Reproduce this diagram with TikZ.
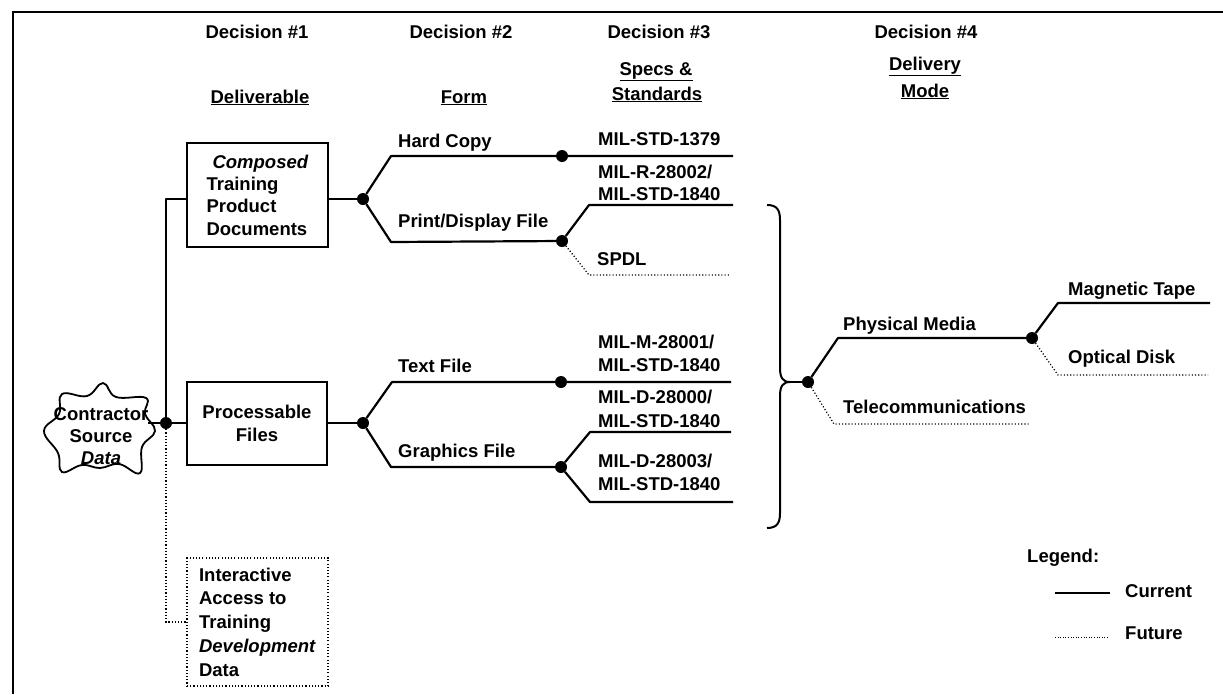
\documentclass[tikz,border=0pt]{standalone}
\usepackage{fontspec}
\setmainfont{Liberation Sans}
\begin{document}
\begin{tikzpicture}[x=1pt,y=-1pt,
  lbl/.style={font=\fontsize{18.5}{22.3}\selectfont\bfseries, inner sep=0pt},
  cur/.style={line width=2.2pt, line join=round},
  fut/.style={line width=1.3pt, dash pattern=on 1.1pt off 2.1pt},
  jdot/.style={circle, fill=black, inner sep=0pt, minimum size=12pt},
  boxs/.style={draw, line width=2pt, inner sep=0pt, font=\fontsize{18.5}{22.3}\selectfont\bfseries},
  boxf/.style={draw, line width=1.3pt, dash pattern=on 1.1pt off 2.1pt, inner sep=0pt, font=\fontsize{18.5}{23.8}\selectfont\bfseries}
]
\useasboundingbox (0,0) rectangle (1223,694);
% frame
\draw[line width=2.4pt] (13,694) -- (13,12) -- (1223,12);

% headers
\node[lbl, anchor=base] (d1) at (257,38) {Decision \#1};
\node[lbl, anchor=base] (d2) at (461,38) {Decision \#2};
\node[lbl, anchor=base] (d3) at (659,38) {Decision \#3};
\node[lbl, anchor=base] (d4) at (926,38) {Decision \#4};
\node[lbl, anchor=base] (h1) at (260,103) {\underline{Deliverable}};
\node[lbl, anchor=base] (h2) at (464,103) {\underline{Form}};
\node[lbl, anchor=base] (h3a) at (656,75) {\underline{Specs \&}};
\node[lbl, anchor=base] (h3b) at (657,100) {\underline{Standards}};
\node[lbl, anchor=base] (h4a) at (925,70) {\underline{Delivery}};
\node[lbl, anchor=base] (h4b) at (925,97) {\underline{Mode}};

% boxes
\node[boxs, minimum width=141pt, minimum height=104pt, align=left] (comp) at (257.5,195)
  {\hspace*{6pt}\textit{Composed}\\Training\\Product\\Documents};
\node[boxs, minimum width=140pt, minimum height=83pt, align=center] (proc) at (257,423.5)
  {Processable\\Files};
\node[boxf, minimum width=141pt, minimum height=128pt, align=left] (inter) at (257.5,622)
  {Interactive\\Access to\\Training\\\textit{Development}\\Data};

% cloud
\draw[line width=1.8pt] plot[smooth cycle, tension=0.7] coordinates
  {(103,383) (116,397) (146,398) (145,414) (155,431) (142,447) (140,473) (119,464)
   (100,468) (82,465) (62,472) (58,453) (44,431) (59,414) (62,394) (87,396)};
\node[lbl, align=center, font=\fontsize{18.5}{22}\selectfont\bfseries] (src) at (101,436)
  {Contractor\\Source\\\textit{Data}};
\coordinate (srcR) at (148,423);

% junction dots
\node[jdot] (jA) at (166,423) {};
\node[jdot] (jB) at (363,199) {};
\node[jdot] (jC) at (562,156) {};
\node[jdot] (jD) at (562,241) {};
\node[jdot] (jE) at (363,423) {};
\node[jdot] (jF) at (561,382) {};
\node[jdot] (jG) at (561,467) {};
\node[jdot] (jH) at (808,382) {};
\node[jdot] (jI) at (1032,338) {};

% free ends
\coordinate (hcE) at (733,156);
\coordinate (pdE) at (733,205);
\coordinate (spE) at (730,275);
\coordinate (tfE) at (731,382);
\coordinate (g1E) at (731,432);
\coordinate (g2E) at (733,502);
\coordinate (tcE) at (1030,424);
\coordinate (mtE) at (1210,303);
\coordinate (odE) at (1208,375);
\coordinate (brTip) at (790,382);

% deliverable connectors
\draw[cur] (srcR) -- (jA) -- (jA -| proc.west);
\draw[cur] (jA) |- (comp.west |- jB);
\draw[fut] (jA) |- (inter.west);
\draw[cur] (comp.east |- jB) -- (jB);
\draw[cur] (proc.east |- jE) -- (jE);

% form branches
\draw[cur] (jB) -- (391,156) -- (jC) -- (hcE);
\draw[cur] (jB) -- (391,242) -- (jD);
\draw[cur] (jD) -- (589,205) -- (pdE);
\draw[fut] (jD) -- (589,275) -- (spE);
\draw[cur] (jE) -- (392,382) -- (jF) -- (tfE);
\draw[cur] (jE) -- (391,467) -- (jG);
\draw[cur] (jG) -- (590,432) -- (g1E);
\draw[cur] (jG) -- (590,502) -- (g2E);

% brace
\draw[line width=2pt] (767,205) .. controls (777,205) and (780,210) .. (780,220)
  -- (780,368) .. controls (780,378) and (783,382) .. (brTip);
\draw[line width=2pt] (767,528) .. controls (777,528) and (780,523) .. (780,513)
  -- (780,396) .. controls (780,386) and (783,382) .. (brTip);
\draw[cur] (brTip) -- (jH);

% delivery branches
\draw[cur] (jH) -- (838,338) -- (jI);
\draw[fut] (jH) -- (834,424) -- (tcE);
\draw[cur] (jI) -- (1058,303) -- (mtE);
\draw[fut] (jI) -- (1058,375) -- (odE);

% labels
\node[lbl, anchor=base west] (lhc) at (398,147) {Hard Copy};
\node[lbl, anchor=base west] (lpd) at (398,227) {Print/Display File};
\node[lbl, anchor=base west] (ltf) at (398,372) {Text File};
\node[lbl, anchor=base west] (lgf) at (398,457) {Graphics File};
\node[lbl, anchor=base west] (s1) at (598,145) {MIL-STD-1379};
\node[lbl, anchor=base west] (s2) at (598,178) {MIL-R-28002/};
\node[lbl, anchor=base west] (s3) at (598,200) {MIL-STD-1840};
\node[lbl, anchor=base west] (s4) at (597,265) {SPDL};
\node[lbl, anchor=base west] (s5) at (598,348) {MIL-M-28001/};
\node[lbl, anchor=base west] (s6) at (598,371) {MIL-STD-1840};
\node[lbl, anchor=base west] (s7) at (598,403) {MIL-D-28000/};
\node[lbl, anchor=base west] (s8) at (598,427) {MIL-STD-1840};
\node[lbl, anchor=base west] (s9) at (598,467) {MIL-D-28003/};
\node[lbl, anchor=base west] (s10) at (598,490) {MIL-STD-1840};
\node[lbl, anchor=base west] (lpm) at (843,330) {Physical Media};
\node[lbl, anchor=base west] (ltc) at (843,413) {Telecommunications};
\node[lbl, anchor=base west] (lmt) at (1068,295) {Magnetic Tape};
\node[lbl, anchor=base west] (lod) at (1068,363) {Optical Disk};

% legend
\node[lbl, anchor=base west] (lg) at (1027,562) {Legend:};
\node[lbl, anchor=base west] (lgc) at (1125,597) {Current};
\node[lbl, anchor=base west] (lgf2) at (1125,639) {Future};
\coordinate (lc1) at (1055,593);
\coordinate (lc2) at (1110,593);
\coordinate (lf1) at (1055,637);
\coordinate (lf2) at (1108,637);
\draw[line width=1.8pt] (lc1) -- (lc2);
\draw[line width=0.9pt, dash pattern=on 0.8pt off 1.8pt] (lf1) -- (lf2);
\end{tikzpicture}
\end{document}
